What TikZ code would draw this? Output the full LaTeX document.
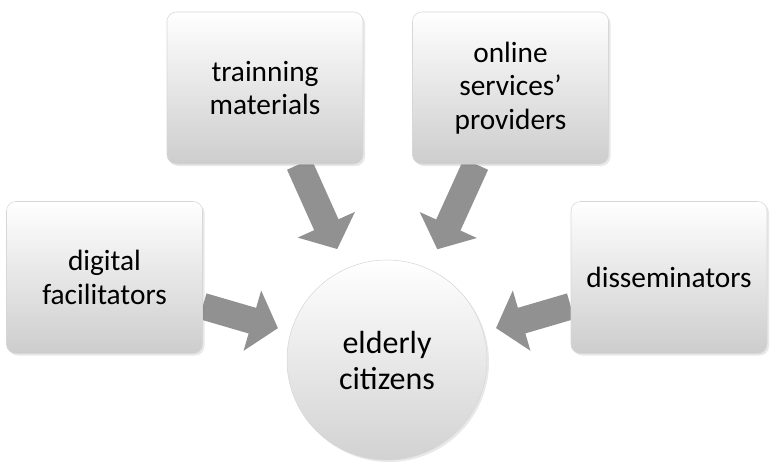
\documentclass[tikz,border=0pt]{standalone}
\usepackage{fontspec}
\setmainfont{Carlito}
\usepackage{xcolor}
\definecolor{boxtop}{RGB}{255,255,255}
\definecolor{boxbot}{RGB}{205,205,205}
\definecolor{boxrim}{RGB}{215,215,215}
\definecolor{arrgray}{RGB}{145,145,145}
\usepackage{tikz}
\usetikzlibrary{arrows.meta,shadows,backgrounds}
\tikzset{
  cm_box/.style={rectangle,rounded corners=7pt,
    draw=boxrim,top color=boxtop,bottom color=boxbot,
    minimum width=147pt,minimum height=114pt,
    text width=140pt,align=center,
    font=\fontsize{22}{25}\selectfont,
    drop shadow={opacity=0.18,shadow xshift=1.5pt,shadow yshift=-1.5pt}},
  cm_hub/.style={circle,
    draw=boxrim,top color=boxtop,bottom color=boxbot!90,
    minimum size=150pt,align=center,
    font=\fontsize{24}{27}\selectfont,
    drop shadow={opacity=0.18,shadow xshift=1.5pt,shadow yshift=-1.5pt}},
  cm_arr/.style={draw=arrgray,line width=20pt,
    -{Triangle[width=46pt,length=20pt]}},
}
\begin{document}
\begin{tikzpicture}[x=0.75pt,y=-0.75pt]
  \useasboundingbox (0,0) rectangle (777,475);

  % --- Centre ---
  \node (eld) [cm_hub] at (387,360) {elderly\\citizens};

  % --- Contributors ---
  \node (dig)   [cm_box] at (104.5,277.5) {digital\\facilitators};
  \node (train) [cm_box] at (265,88)      {trainning\\materials};
  \node (onl)   [cm_box] at (510.5,88)    {online\\services'\\providers};
  \node (diss)  [cm_box] at (669,277.5)   {disseminators};

  % --- Arrows into the centre ---
  \begin{pgfonlayer}{background}
    \draw[cm_arr,shorten >=10pt] (dig)   -- (eld);
    \draw[cm_arr,shorten >=16pt] (train) -- (eld);
    \draw[cm_arr,shorten >=16pt] (onl)   -- (eld);
    \draw[cm_arr,shorten >=10pt] (diss)  -- (eld);
  \end{pgfonlayer}
\end{tikzpicture}
\end{document}
